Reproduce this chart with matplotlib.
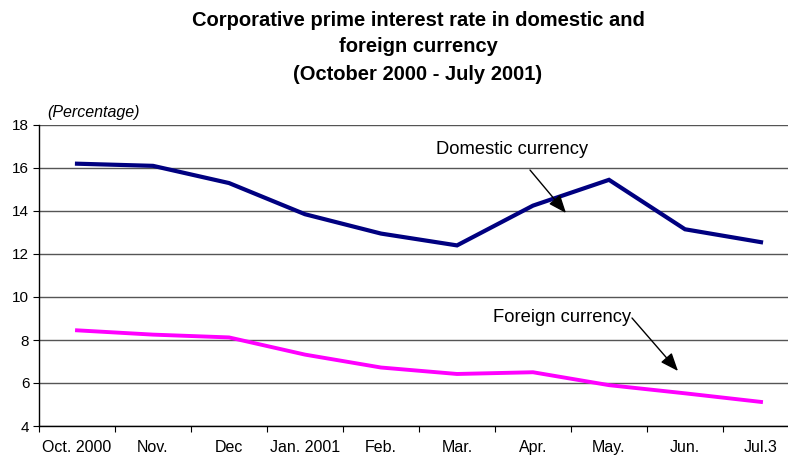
import matplotlib.pyplot as plt
import numpy as np

plt.rcParams['font.family'] = ['Liberation Sans', 'DejaVu Sans']

months = ["Oct. 2000", "Nov.", "Dec", "Jan. 2001", "Feb.", "Mar.", "Apr.", "May.", "Jun.", "Jul.3"]
domestic = [16.2, 16.1, 15.3, 13.85, 12.95, 12.4, 14.25, 15.45, 13.15, 12.55]
foreign = [8.45, 8.25, 8.12, 7.32, 6.72, 6.42, 6.5, 5.9, 5.52, 5.12]
y_ticks = [4, 6, 8, 10, 12, 14, 16, 18]

W, H = 788, 458
fig = plt.figure(figsize=(W / 100, H / 100), dpi=100)
# axes runs a little past the right edge of the figure
ax = fig.add_axes((39 / W, 32 / H, 760 / W, 301 / H))

x = np.arange(len(months))
ax.plot(x, domestic, color="#000080", lw=3.0, solid_joinstyle="miter", zorder=3)
ax.plot(x, foreign, color="#FF00FF", lw=2.8, solid_joinstyle="miter", zorder=3)

ax.set_xlim(-0.5, len(months) - 0.5)
ax.set_ylim(4, 18)
ax.set_yticks(y_ticks)
ax.set_yticklabels([str(v) for v in y_ticks], fontsize=11)
ax.yaxis.grid(True, color="#555555", lw=1.0)
ax.set_axisbelow(True)

# ticks on category boundaries, labels at the centres
ax.set_xticks(np.arange(len(months)) - 0.5)
ax.set_xticklabels([])
ax.set_xticks(x, minor=True)
ax.set_xticklabels(months, minor=True, fontsize=11.5)
ax.tick_params(axis="x", which="major", direction="out", length=4, color="black")
ax.tick_params(axis="x", which="minor", length=0, pad=10)
ax.tick_params(axis="y", direction="out", length=4, pad=3)

for side in ("top", "right"):
    ax.spines[side].set_visible(False)
for side in ("left", "bottom"):
    ax.spines[side].set_color("black")
    ax.spines[side].set_linewidth(1.0)

title_lines = ["Corporative prime interest rate in domestic and",
               "foreign currency",
               "(October 2000 - July 2001)"]
for i, line in enumerate(title_lines):
    fig.text(418 / W, 1 - (20 + 27 * i) / H, line,
             ha="center", va="center", fontsize=14.5, fontweight="bold")
fig.text(47 / W, 1 - 112 / H, "(Percentage)", ha="left", va="center",
         fontsize=11.5, style="italic")

arrow = dict(arrowstyle="-|>,head_length=0.55,head_width=0.22", color="black",
             lw=1.0, mutation_scale=20, shrinkA=0, shrinkB=0)
ax.annotate("", xy=(566, H - 213), xytext=(530, H - 170),
            xycoords="figure pixels", textcoords="figure pixels", arrowprops=arrow)
ax.annotate("", xy=(678, H - 371), xytext=(632, H - 318),
            xycoords="figure pixels", textcoords="figure pixels", arrowprops=arrow)
fig.text(436 / W, 1 - 149 / H, "Domestic currency", ha="left", va="center", fontsize=13.2)
fig.text(493 / W, 1 - 317 / H, "Foreign currency", ha="left", va="center", fontsize=13.2)

fig.savefig("out.png", dpi=100)
